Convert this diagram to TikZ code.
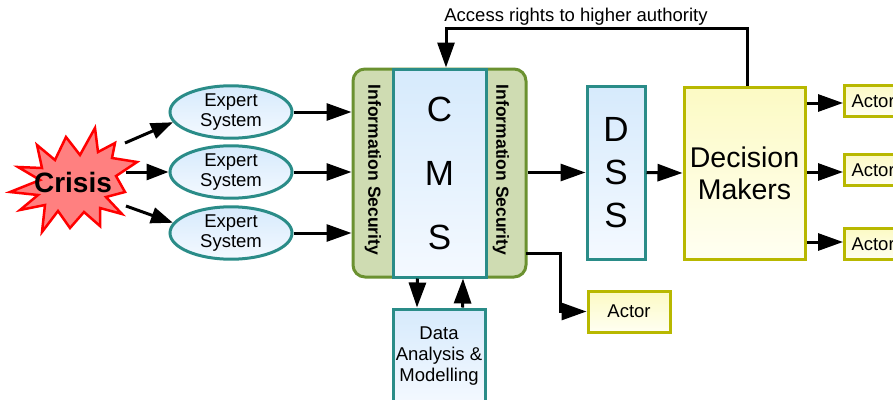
\documentclass[tikz,border=0pt]{standalone}
\usepackage{fontspec}
\setmainfont{Liberation Sans}
\usetikzlibrary{arrows.meta,shapes.geometric,calc}

\definecolor{tealline}{HTML}{2A8C88}
\definecolor{bluetop}{HTML}{D6EAFC}
\definecolor{bluebot}{HTML}{F4F9FF}
\definecolor{greenline}{HTML}{6B9130}
\definecolor{greenfill}{HTML}{CFDCB2}
\definecolor{yelline}{HTML}{B8B800}
\definecolor{yeltop}{HTML}{FCFAC4}
\definecolor{yelbot}{HTML}{FFFFF2}
\definecolor{crisisfill}{HTML}{FF8080}

\tikzset{
  arr/.style={line width=3pt,-{Triangle[length=25pt,width=17pt]}},
  sarr/.style={line width=3pt,-{Triangle[length=22pt,width=16pt]}},
  bluebox/.style={draw=tealline,line width=3pt,top color=bluetop,bottom color=bluebot,
    inner sep=0pt,align=center},
  expert/.style={ellipse,draw=tealline,line width=3pt,top color=bluetop,bottom color=bluebot,
    minimum width=122pt,minimum height=50pt,inner sep=0pt,align=center,
    font=\fontsize{18.5}{20.5}\selectfont},
  yelbox/.style={draw=yelline,line width=3pt,top color=yeltop,bottom color=yelbot,
    inner sep=0pt,align=center},
  actorbox/.style={yelbox,font=\fontsize{18.5}{21}\selectfont},
  infosec/.style={rotate=-90,font=\fontsize{17.5}{20}\selectfont\bfseries},
}

\begin{document}
\begin{tikzpicture}[x=1pt,y=-1pt]
\useasboundingbox (0,0) rectangle (893,399);
\clip (0,0) rectangle (893,399);
\fill[white] (0,0) rectangle (893,399);

% crisis starburst
\draw[draw=red,line width=2.5pt,fill=crisisfill,line join=miter]
  (95,128) -- (98,152) -- (115,143) -- (112,158) -- (137,162) -- (116,176)
  -- (125,192) -- (106,197) -- (122,214) -- (100,208) -- (100,226) -- (84,212)
  -- (70,228) -- (58,211) -- (42,232) -- (45,205) -- (20,210) -- (38,195)
  -- (10,192) -- (40,180) -- (18,167) -- (42,168) -- (37,145) -- (55,160)
  -- (66,137) -- (80,155) -- cycle;
\node[font=\fontsize{28}{30}\selectfont\bfseries] (crisis) at (73,182) {Crisis};
\coordinate (s1) at (125,143);
\coordinate (s2) at (126,172);
\coordinate (s3) at (126,206);

% expert systems
\node[expert] (e1) at (231,112) {Expert\\System};
\node[expert] (e2) at (231,172) {Expert\\System};
\node[expert] (e3) at (231,233) {Expert\\System};

% CMS with information security layers
\node[draw=greenline,fill=greenfill,line width=3pt,rounded corners=12pt,
  minimum width=173pt,minimum height=208pt] (green) at (439.5,173) {};
\node[bluebox,minimum width=93pt,minimum height=208pt,
  font=\fontsize{35}{64}\selectfont] (cms) at (439.5,173) {C\\M\\S};
\node[infosec] (is1) at (373,170) {Information Security};
\node[infosec] (is2) at (501,170) {Information Security};

% DSS and decision makers
\node[bluebox,minimum width=58pt,minimum height=173pt,
  font=\fontsize{35}{43}\selectfont] (dss) at (616,172.5) {D\\S\\S};
\node[yelbox,minimum width=121pt,minimum height=172pt,
  font=\fontsize{28.5}{32}\selectfont] (dm) at (744.5,173) {Decision\\Makers};

% actors
\node[actorbox,anchor=west,minimum height=31pt,inner xsep=7pt] (a1) at (843,101) {Actor};
\node[actorbox,anchor=west,minimum height=31pt,inner xsep=7pt] (a2) at (843,170) {Actor};
\node[actorbox,anchor=west,minimum height=31pt,inner xsep=7pt] (a3) at (843,244) {Actor};
\node[actorbox,minimum width=82pt,minimum height=41pt] (a4) at (629,311.5) {Actor};

% data analysis
\node[bluebox,minimum width=92pt,minimum height=94pt,
  font=\fontsize{18.5}{21}\selectfont] (data) at (439,356) {Data\\Analysis \&\\Modelling};

% label of the feedback line
\node[font=\fontsize{18.5}{20}\selectfont] (lbl) at (576,17) {Access rights to higher authority};

% connectors
\draw[sarr] (s1) -- (e1.190);
\draw[sarr] (s2) -- (e2.west);
\draw[sarr] (s3) -- (e3.170);

\draw[arr] (e1.east) -- (e1.east -| green.west);
\draw[arr] (e2.east) -- (e2.east -| green.west);
\draw[arr] (e3.east) -- (e3.east -| green.west);

\draw[arr] (dss.west -| green.east) -- (dss.west);
\coordinate (g2) at (526,253);
\draw[arr] (g2) -- ++(34,0) |- (a4.west);

\draw[arr] (dss.east) -- (dm.west);
\draw[arr] ($(a1.west -| dm.east)+(0,2)$) -- ($(a1.west)+(0,2)$);
\draw[arr] ($(a2.west -| dm.east)+(0,2)$) -- ($(a2.west)+(0,2)$);
\draw[arr] ($(a3.west -| dm.east)+(0,-2)$) -- ($(a3.west)+(0,-2)$);

\draw[arr] ([xshift=-22pt]cms.south) -- ([xshift=-22pt]data.north);
\draw[arr] ([xshift=23.5pt]data.north) -- ([xshift=23.5pt]cms.south);

\draw[arr] ([xshift=2.5pt]dm.north) -- ++(0,-57) -| ([xshift=6.5pt]cms.north);
\end{tikzpicture}
\end{document}
